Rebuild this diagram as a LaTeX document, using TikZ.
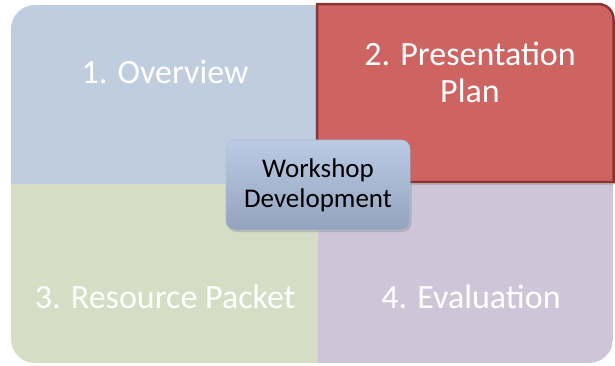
\documentclass[tikz,border=0pt]{standalone}
\usepackage{fontspec}
\setmainfont{Carlito}
\usetikzlibrary{shadows,positioning}

\definecolor{quadblue}{HTML}{BFCDDE}
\definecolor{quadred}{HTML}{CD6462}
\definecolor{redline}{HTML}{873432}
\definecolor{quadgreen}{HTML}{D5DDC4}
\definecolor{quadlilac}{HTML}{CEC6D8}
\definecolor{hubtop}{HTML}{BBCBE5}
\definecolor{hubbot}{HTML}{93A3BD}

\begin{document}
\begin{tikzpicture}[x=1pt,y=-1pt,
                    every node/.style={inner sep=0pt}]
  \tikzstyle{label}=[text=white,font=\fontsize{34}{37}\selectfont,align=center]
  \tikzstyle{hub}=[rectangle,rounded corners=9pt,top color=hubtop,bottom color=hubbot,
                   draw=hubbot!70!white,line width=0.6pt,minimum width=184pt,minimum height=90pt,
                   align=center,font=\fontsize{27}{30}\selectfont,
                   drop shadow={opacity=0.35,shadow xshift=1.5pt,shadow yshift=-2pt}]

  \useasboundingbox (0,0) rectangle (615,365);

  % four quarters
  \begin{scope}
    \clip[rounded corners=24pt] (11,5) rectangle (613,363);
    \fill[quadblue]  (11,5)    rectangle (318,184);
    \fill[quadgreen] (11,184)  rectangle (318,363);
    \fill[quadlilac] (318,184) rectangle (613,363);
  \end{scope}
  \filldraw[quadred,draw=redline,line width=2.5pt,
            drop shadow={opacity=0.3,shadow xshift=0pt,shadow yshift=-3pt}]
    (317,182) -- (317,4) -- (598,4) [rounded corners=0pt] -- (598,4) to[out=0,in=90] (613.5,19) -- (613.5,182) -- cycle;

  \node[label] (ov)  at (165,72)  {1. Overview};
  \node[label] (pp)  at (470,72)  {2. Presentation\\Plan};
  \node[label] (rp)  at (165,297) {3. Resource Packet};
  \node[label] (ev)  at (471,297) {4. Evaluation};

  \node[hub]   (ws)  at (318,185) {Workshop\\Development};

\end{tikzpicture}
\end{document}
